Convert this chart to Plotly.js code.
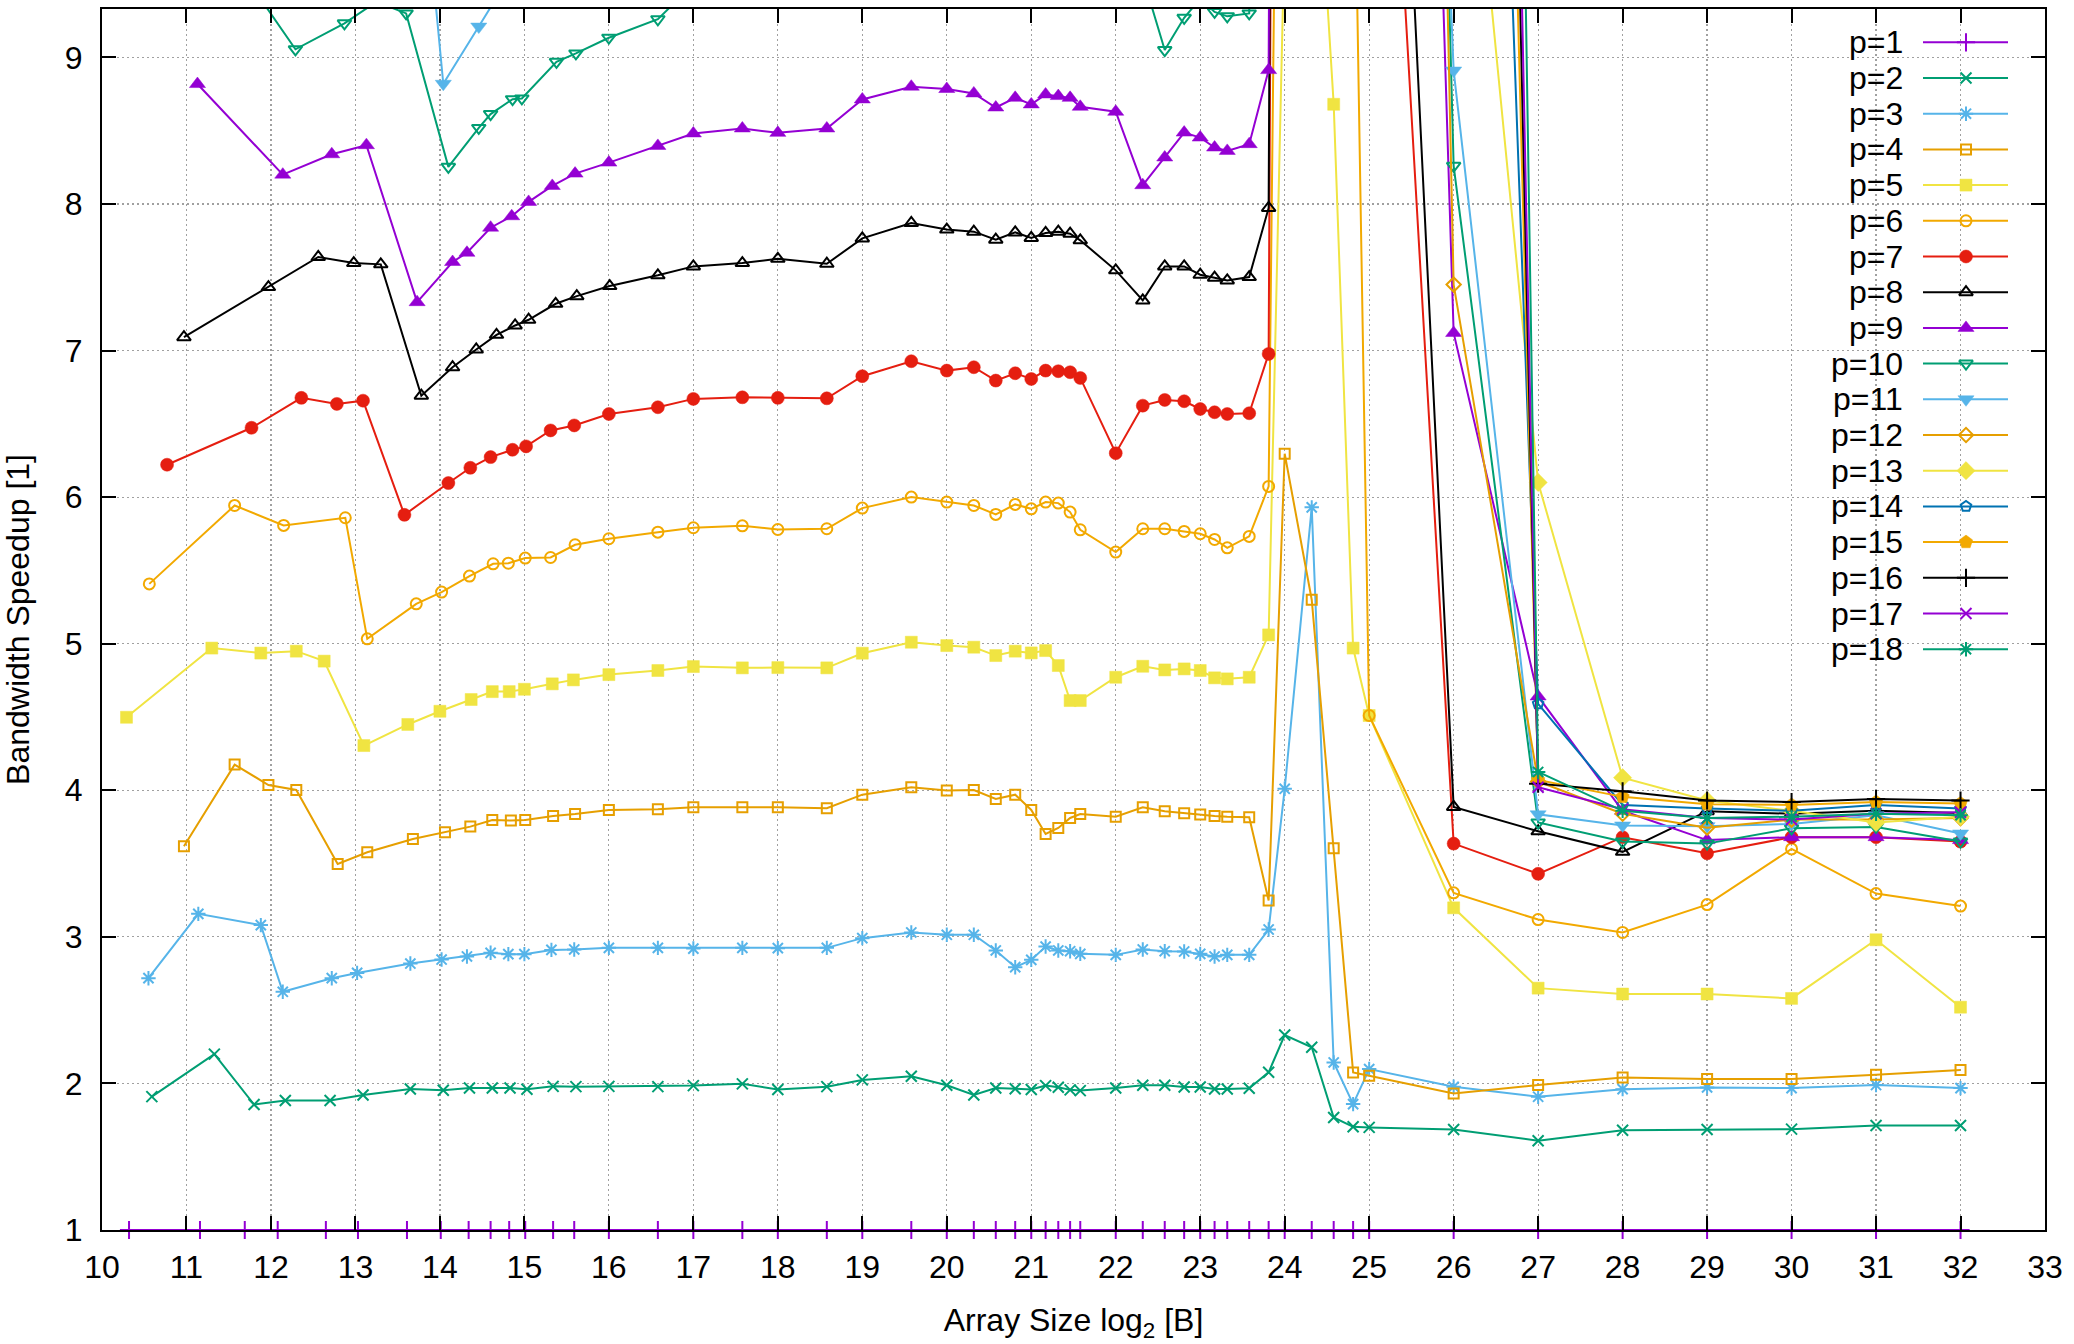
<!DOCTYPE html>
<html>
<head>
<meta charset="utf-8">
<script src="https://cdn.plot.ly/plotly-3.0.1.min.js"></script>
<style>
html,body{margin:0;padding:0;background:#ffffff;}
#chart{width:2074px;height:1344px;}
</style>
</head>
<body>
<div id="chart"></div>
<script>
// ---------------- DATA ----------------
const seriesNames = ['p=1','p=2','p=3','p=4','p=5','p=6','p=7','p=8','p=9','p=10','p=11','p=12','p=13','p=14','p=15','p=16','p=17','p=18'];

// log2 array sizes shared by the small-p series from 16.58 onward
const sharedX = [16.58, 17.0, 17.58, 18.0, 18.58, 19.0, 19.58, 20.0, 20.32, 20.58, 20.81, 21.0, 21.17, 21.32, 21.46, 21.58,
  22.0, 22.32, 22.58, 22.81, 23.0, 23.17, 23.32, 23.58, 23.81, 24.0, 24.32, 24.58, 24.81, 25.0, 26, 27, 28, 29, 30, 31, 32];

const xHead_p1 = [10.32, 11.16, 11.69, 12.08, 12.65, 13.03, 13.61, 14.01, 14.34, 14.60, 14.82, 15.01, 15.34, 15.59, 16.0];
const yHead_p1 = [1, 1, 1, 1, 1, 1, 1, 1, 1, 1, 1, 1, 1, 1, 1];
const yTail_p1 = [1, 1, 1, 1, 1, 1, 1, 1, 1, 1, 1, 1, 1, 1, 1, 1, 1, 1, 1, 1, 1, 1, 1, 1, 1, 1, 1, 1, 1, 1, 1, 1, 1, 1, 1, 1, 1];

const xHead_p2 = [10.59, 11.33, 11.80, 12.17, 12.70, 13.09, 13.65, 14.04, 14.35, 14.62, 14.83, 15.03, 15.34, 15.61, 16.0];
const yHead_p2 = [1.91, 2.20, 1.856, 1.883, 1.883, 1.921, 1.962, 1.953, 1.969, 1.969, 1.969, 1.96, 1.98, 1.978, 1.98];
const yTail_p2 = [1.978, 1.985, 1.997, 1.958, 1.978, 2.024, 2.049, 1.987, 1.921, 1.969, 1.964, 1.958, 1.985, 1.974, 1.956, 1.951,
  1.969, 1.987, 1.987, 1.976, 1.976, 1.962, 1.962, 1.967, 2.076, 2.33, 2.247, 1.768, 1.704, 1.70, 1.686, 1.609, 1.68, 1.686, 1.688, 1.713, 1.713];

const xHead_p3 = [10.55, 11.14, 11.88, 12.14, 12.72, 13.02, 13.65, 14.02, 14.32, 14.60, 14.81, 15.0, 15.32, 15.59, 16.0];
const yHead_p3 = [2.718, 3.157, 3.08, 2.625, 2.718, 2.754, 2.818, 2.845, 2.866, 2.891, 2.882, 2.882, 2.911, 2.914, 2.925];
const yTail_p3 = [2.925, 2.92, 2.925, 2.923, 2.925, 2.991, 3.03, 3.014, 3.014, 2.907, 2.793, 2.843, 2.934, 2.907, 2.902, 2.884,
  2.877, 2.914, 2.902, 2.9, 2.884, 2.866, 2.877, 2.877, 3.05, 4.01, 5.93, 2.143, 1.859, 2.098, 1.977, 1.909, 1.961, 1.973, 1.968, 1.989, 1.968];

const xHead_p4 = [10.97, 11.57, 11.97, 12.30, 12.79, 13.14, 13.68, 14.06, 14.36, 14.62, 14.84, 15.01, 15.34, 15.60, 16.0];
const yHead_p4 = [3.618, 4.175, 4.036, 4.002, 3.497, 3.577, 3.668, 3.713, 3.752, 3.797, 3.793, 3.797, 3.825, 3.838, 3.866];
const yTail_p4 = [3.870, 3.884, 3.884, 3.884, 3.877, 3.970, 4.02, 3.998, 4.002, 3.941, 3.970, 3.866, 3.702, 3.743, 3.811, 3.838,
  3.82, 3.884, 3.857, 3.843, 3.834, 3.825, 3.82, 3.816, 3.248, 6.296, 5.30, 3.604, 2.075, 2.052, 1.932, 1.989, 2.041, 2.03, 2.03, 2.059, 2.091];

const xHead_p5 = [10.29, 11.30, 11.88, 12.30, 12.63, 13.10, 13.62, 14.0, 14.37, 14.62, 14.82, 15.0, 15.33, 15.58, 16.0];
const yHead_p5 = [4.498, 4.97, 4.936, 4.949, 4.881, 4.305, 4.449, 4.539, 4.619, 4.673, 4.673, 4.689, 4.726, 4.753, 4.789];
const yTail_p5 = [4.817, 4.844, 4.835, 4.837, 4.835, 4.935, 5.01, 4.987, 4.976, 4.919, 4.949, 4.937, 4.953, 4.851, 4.612, 4.612,
  4.771, 4.846, 4.821, 4.828, 4.817, 4.767, 4.76, 4.771, 5.06, 9.9, 11.1, 8.68, 4.97, 4.51, 3.198, 2.65, 2.61, 2.61, 2.58, 2.98, 2.52];

const xHead_p6 = [10.56, 11.57, 12.15, 12.88, 13.14, 13.72, 14.02, 14.35, 14.63, 14.81, 15.01, 15.31, 15.60, 16.0];
const yHead_p6 = [5.408, 5.943, 5.807, 5.859, 5.033, 5.272, 5.352, 5.461, 5.545, 5.549, 5.584, 5.588, 5.675, 5.716];
const yTail_p6 = [5.761, 5.791, 5.804, 5.779, 5.784, 5.925, 6.0, 5.966, 5.943, 5.882, 5.95, 5.92, 5.966, 5.959, 5.898, 5.777,
  5.625, 5.784, 5.784, 5.766, 5.75, 5.711, 5.654, 5.732, 6.073, 16, 18, 16, 11.05, 4.51, 3.30, 3.118, 3.03, 3.22, 3.60, 3.295, 3.21];

const xHead_p7 = [10.77, 11.77, 12.36, 12.78, 13.09, 13.58, 14.10, 14.36, 14.60, 14.86, 15.02, 15.31, 15.59, 16.0];
const yHead_p7 = [6.221, 6.473, 6.677, 6.636, 6.658, 5.879, 6.096, 6.20, 6.273, 6.323, 6.346, 6.455, 6.489, 6.567];
const yTail_p7 = [6.613, 6.670, 6.681, 6.677, 6.674, 6.825, 6.927, 6.863, 6.886, 6.795, 6.845, 6.806, 6.863, 6.859, 6.852, 6.813,
  6.30, 6.624, 6.663, 6.654, 6.601, 6.579, 6.567, 6.572, 6.977, 28, 30, 28, 22, 13.6, 3.636, 3.43, 3.68, 3.57, 3.68, 3.68, 3.65];

const xHead_p8 = [10.97, 11.97, 12.56, 12.98, 13.30, 13.78, 14.15, 14.43, 14.67, 14.89, 15.05, 15.37, 15.62, 16.01];
const yHead_p8 = [7.091, 7.433, 7.638, 7.597, 7.588, 6.692, 6.886, 7.007, 7.107, 7.171, 7.21, 7.319, 7.371, 7.44];
const yTail_p8 = [7.513, 7.574, 7.597, 7.626, 7.592, 7.765, 7.87, 7.825, 7.811, 7.756, 7.806, 7.768, 7.802, 7.811, 7.797, 7.752,
  7.547, 7.342, 7.574, 7.574, 7.517, 7.497, 7.478, 7.501, 7.973, 30, 32, 30, 26, 15.7, 3.886, 3.72, 3.58, 3.857, 3.84, 3.86, 3.845];

const xHead_p9 = [11.13, 12.14, 12.72, 13.13, 13.73, 14.15, 14.32, 14.60, 14.85, 15.05, 15.33, 15.60, 16.0];
const yHead_p9 = [8.818, 8.200, 8.339, 8.401, 7.330, 7.604, 7.667, 7.838, 7.916, 8.014, 8.123, 8.207, 8.282];
const yTail_p9 = [8.396, 8.481, 8.515, 8.485, 8.515, 8.713, 8.80, 8.784, 8.754, 8.658, 8.724, 8.679, 8.747, 8.736, 8.724, 8.663,
  8.629, 8.128, 8.317, 8.487, 8.453, 8.385, 8.362, 8.408, 8.913, 32, 34, 32, 30, 25.5, 7.12, 4.64, 3.86, 3.66, 3.68, 3.68, 3.66];

const xHead_p10 = [10.85, 11.60, 12.29, 12.87, 13.25, 13.60, 14.10, 14.46, 14.60, 14.86, 14.97, 15.38, 15.61, 16.0];
const yHead_p10 = [9.8, 9.63, 9.055, 9.232, 9.38, 9.30, 8.253, 8.519, 8.613, 8.715, 8.72, 8.97, 9.027, 9.134];
const yTail_p10 = [9.26, 9.5, 9.6, 9.6, 9.6, 9.8, 9.9, 9.9, 9.85, 9.75, 9.8, 9.75, 9.8, 9.8, 9.8, 9.75,
  9.7, 9.55, 9.05, 9.27, 9.4, 9.31, 9.28, 9.30, 35, 36, 38, 36, 34, 29.7, 8.26, 3.78, 3.65, 3.636, 3.74, 3.75, 3.65];

const xHead_p11 = [10.60, 11.20, 11.90, 12.20, 12.75, 13.10, 13.68, 14.04, 14.46, 14.63, 14.84, 15.03, 15.34, 15.60, 16.0];
const yHead_p11 = [10.5, 10.9, 10.8, 10.6, 10.7, 10.8, 11.0, 8.82, 9.21, 9.37, 9.6, 9.7, 9.8, 9.9, 10.0];
const yTail_p11 = [10.1, 10.2, 10.2, 10.2, 10.2, 10.4, 10.5, 10.5, 10.4, 10.3, 10.4, 10.3, 10.4, 10.4, 10.4, 10.3,
  10.3, 9.9, 10.1, 10.3, 10.3, 10.2, 10.2, 10.2, 40, 42, 44, 42, 40, 23, 8.91, 3.836, 3.76, 3.755, 3.77, 3.83, 3.705];

// large-p series: only the right end enters the visible range
const xLate = [24.0, 24.32, 24.58, 24.81, 25.0, 26, 27, 28, 29, 30, 31, 32];
const y_p12 = [38, 40, 38, 36, 34, 7.45, 4.06, 3.84, 3.745, 3.80, 3.80, 3.81];
const y_p13 = [40, 42, 40, 38, 36, 12.0, 6.10, 4.086, 3.93, 3.86, 3.78, 3.82];
const y_p14 = [42, 44, 42, 40, 38, 20.4, 4.59, 3.90, 3.875, 3.86, 3.90, 3.875];
const y_p15 = [44, 46, 44, 42, 40, 26, 4.07, 3.955, 3.905, 3.90, 3.92, 3.91];
const y_p16 = [46, 48, 46, 44, 42, 29, 4.045, 3.993, 3.93, 3.92, 3.94, 3.93];
const y_p17 = [48, 50, 48, 46, 44, 32, 4.02, 3.87, 3.81, 3.80, 3.84, 3.85];
const y_p18 = [50, 52, 50, 48, 46, 40, 4.125, 3.86, 3.81, 3.82, 3.84, 3.83];

// ---------------- STYLE ----------------
const colors = ['#9400D3','#009E73','#56B4E9','#E69F00','#F0E442','#F2A900','#E51E10','#000000','#9400D3',
                '#009E73','#56B4E9','#E69F00','#F0E442','#0072B2','#F2A900','#000000','#9400D3','#009E73'];
const symbols = ['cross-thin-open','x-thin-open','asterisk-open','square-open','square','circle-open','circle',
                 'triangle-up-open','triangle-up','triangle-down-open','triangle-down','diamond-open','diamond',
                 'pentagon-open','pentagon','cross-thin-open','x-thin-open','asterisk-open'];
const symbolSize = {'cross-thin-open':13,'x-thin-open':11,'asterisk-open':12,'square-open':10,'square':12,
  'circle-open':11,'circle':13,'triangle-up-open':12,'triangle-up':14,'triangle-down-open':12,'triangle-down':14,
  'diamond-open':11,'diamond':14,'pentagon-open':11,'pentagon':14};

const seriesX = [
  xHead_p1.concat(sharedX), xHead_p2.concat(sharedX), xHead_p3.concat(sharedX), xHead_p4.concat(sharedX),
  xHead_p5.concat(sharedX), xHead_p6.concat(sharedX), xHead_p7.concat(sharedX), xHead_p8.concat(sharedX),
  xHead_p9.concat(sharedX), xHead_p10.concat(sharedX), xHead_p11.concat(sharedX),
  xLate, xLate, xLate, xLate, xLate, xLate, xLate];
const seriesY = [
  yHead_p1.concat(yTail_p1), yHead_p2.concat(yTail_p2), yHead_p3.concat(yTail_p3), yHead_p4.concat(yTail_p4),
  yHead_p5.concat(yTail_p5), yHead_p6.concat(yTail_p6), yHead_p7.concat(yTail_p7), yHead_p8.concat(yTail_p8),
  yHead_p9.concat(yTail_p9), yHead_p10.concat(yTail_p10), yHead_p11.concat(yTail_p11),
  y_p12, y_p13, y_p14, y_p15, y_p16, y_p17, y_p18];

function markerFor(i) {
  const s = symbols[i];
  const filled = !(s.endsWith('-open'));
  return {symbol: s, size: symbolSize[s], color: colors[i],
          line: {color: colors[i], width: filled ? 0.5 : 2}};
}

const traces = [];
seriesNames.forEach((name, i) => {
  traces.push({
    type: 'scatter', mode: 'lines+markers', name: name,
    x: seriesX[i], y: seriesY[i],
    line: {color: colors[i], width: 2},
    marker: markerFor(i),
    cliponaxis: i === 0 ? false : true,
    showlegend: false
  });
});

// ---------------- LEGEND (gnuplot style: text, then sample) ----------------
const W = 2074, H = 1344;
const plotL = 102, plotR = 2045, plotT = 9, plotB = 1230;
const pw = plotR - plotL, ph = plotB - plotT;
const fx = px => (px - plotL) / pw;
const fy = py => (plotB - py) / ph;
const keyRow0 = 42.3, keyStep = 35.7;
const keyTextRight = 1905, keyLineL = 1923, keyLineR = 2008, keyMark = 1966;
const fontSize = 32;

const annotations = [];
seriesNames.forEach((name, i) => {
  const ry = fy(keyRow0 + keyStep * i);
  traces.push({type:'scatter', mode:'lines', x:[fx(keyLineL), fx(keyLineR)], y:[ry, ry],
    xaxis:'x2', yaxis:'y2', line:{color: colors[i], width: 2}, hoverinfo:'skip', showlegend:false, cliponaxis:false});
  traces.push({type:'scatter', mode:'markers', x:[fx(keyMark)], y:[ry],
    xaxis:'x2', yaxis:'y2', marker: markerFor(i), hoverinfo:'skip', showlegend:false, cliponaxis:false});
  annotations.push({xref:'paper', yref:'paper', x: fx(keyTextRight), y: ry, xanchor:'right', yanchor:'middle',
    text: name, showarrow:false, font:{size: fontSize, color:'#000'}});
});

const font = 'Liberation Sans, Arial, Helvetica, sans-serif';
const gridDash = '1.5px,3.5px';

const layout = {
  width: W, height: H,
  margin: {l: plotL, r: W - plotR, t: plotT, b: H - plotB, pad: 0},
  paper_bgcolor: '#ffffff', plot_bgcolor: '#ffffff',
  font: {family: font, size: fontSize, color: '#000000'},
  showlegend: false,
  xaxis: {
    range: [10, 33], tickmode: 'linear', tick0: 10, dtick: 1,
    showgrid: true, gridcolor: '#a0a0a0', gridwidth: 1.2, griddash: gridDash,
    zeroline: false, showline: true, linecolor: '#000', linewidth: 2, mirror: 'ticks',
    ticks: 'inside', ticklen: 14, tickwidth: 2, tickcolor: '#000',
    ticklabelstandoff: 8, tickfont: {size: fontSize},
    title: {text: 'Array Size log<sub>2</sub> [B]', font: {size: fontSize}, standoff: 24}
  },
  yaxis: {
    range: [1, 9.33], tickmode: 'linear', tick0: 1, dtick: 1,
    showgrid: true, gridcolor: '#a0a0a0', gridwidth: 1.2, griddash: gridDash,
    zeroline: false, showline: true, linecolor: '#000', linewidth: 2, mirror: 'ticks',
    ticks: 'inside', ticklen: 14, tickwidth: 2, tickcolor: '#000',
    ticklabelstandoff: 11, tickfont: {size: fontSize},
    title: {text: 'Bandwidth Speedup [1]', font: {size: fontSize}, standoff: 34}
  },
  xaxis2: {overlaying: 'x', anchor: 'y2', range: [0, 1], visible: false, fixedrange: true},
  yaxis2: {overlaying: 'y', anchor: 'x2', range: [0, 1], visible: false, fixedrange: true},
  shapes: [{type: 'rect', xref: 'paper', yref: 'paper', layer: 'between',
    x0: fx(1833), x1: 1, y0: fy(667), y1: 1, fillcolor: '#ffffff', line: {width: 0}}],
  annotations: annotations
};

Plotly.newPlot('chart', traces, layout, {displayModeBar: false, staticPlot: true});
</script>
</body>
</html>
